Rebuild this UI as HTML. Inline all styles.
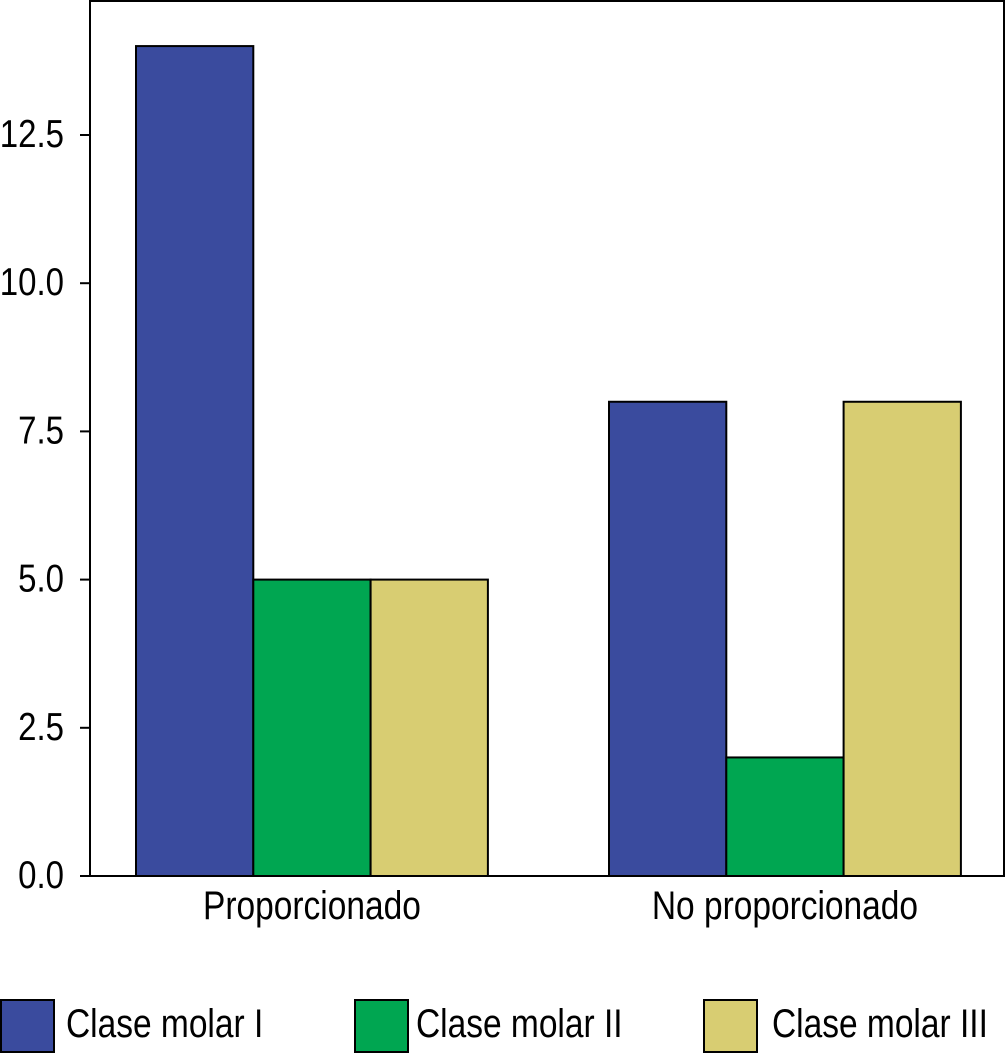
<!DOCTYPE html>
<html><head><meta charset="utf-8"><style>
html,body{margin:0;padding:0;background:#fff;width:1006px;height:1054px;overflow:hidden}
svg{display:block;font-family:"Liberation Sans",sans-serif}
</style></head><body>
<svg id="chart" width="1006" height="1054"></svg>
<script>
const categories=["Proporcionado","No proporcionado"];
const seriesNames=["Clase molar I","Clase molar II","Clase molar III"];
const claseI=[14,8];
const claseII=[5,2];
const claseIII=[5,8];
const yTicks=[0,2.5,5,7.5,10,12.5];
const tickLabels=["0.0","2.5","5.0","7.5","10.0","12.5"];
const colors=["#3a4b9e","#00a651","#d8cd72"];
const NS="http://www.w3.org/2000/svg";
const svg=document.getElementById('chart');
function mk(t,a,p){const e=document.createElementNS(NS,t);for(const k in a)e.setAttribute(k,a[k]);(p||svg).appendChild(e);return e;}
function txt(s,x,yy,anchor,size){const e=mk('text',{x:0,y:0,'text-anchor':anchor,'font-size':size,transform:'translate('+x+','+yy+') scale(1,1.18)'});e.textContent=s;return e;}
const x0=90,x1=1004,yTop=1,yBot=876;
const y=v=>yBot-v*(876-135)/12.5;
const groupStart=[136,609],bw=117.3;
const frame=mk('rect',{x:x0,y:yTop,width:x1-x0,height:yBot-yTop,fill:'none',stroke:'#000','stroke-width':2});


const series=[claseI,claseII,claseIII];
series.forEach((s,si)=>{s.forEach((v,ci)=>{
 const r=mk('rect',{x:groupStart[ci]+si*bw,y:y(v),width:bw,height:yBot-y(v),fill:colors[si],stroke:'#000','stroke-width':2});
 
 
});});
yTicks.forEach((t,i)=>{
 const l=mk('line',{x1:x0-10,x2:x0,y1:y(t),y2:y(t),stroke:'#000','stroke-width':2});
 
 
 const tx=txt(tickLabels[i],64,y(t)+12,'end',33);
 
 
});
categories.forEach((c,ci)=>{
 const tx=txt(c,groupStart[ci]+1.5*bw,919,'middle',33.5);
 
 
});
const legX=[1,355,704],legTX=[66,416,772];
seriesNames.forEach((n,i)=>{
 const r=mk('rect',{x:legX[i],y:1000,width:53,height:52,fill:colors[i],stroke:'#000','stroke-width':2});
 
 
 const tx=txt(n,legTX[i],1037,'start',33.5);
 
 
});
</script>
</body></html>
